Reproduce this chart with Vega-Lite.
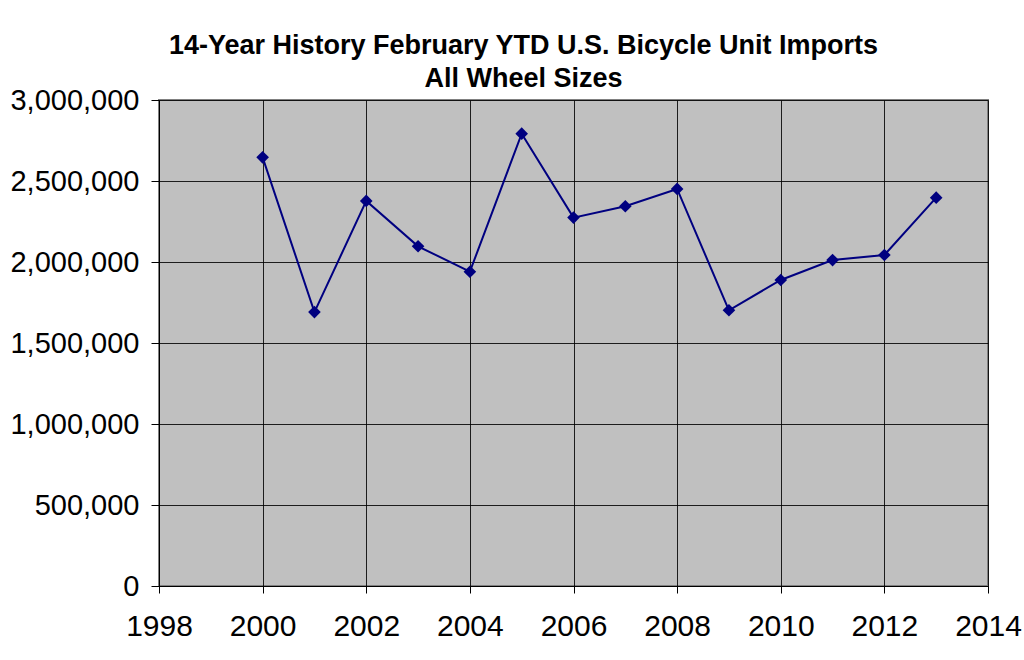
{
  "$schema": "https://vega.github.io/schema/vega-lite/v6.json",
  "width": 829,
  "height": 486,
  "autosize": {"type": "none"},
  "padding": {"left": 159, "top": 100, "right": 36, "bottom": 74},
  "background": "white",
  "title": {
    "text": ["14-Year History February YTD U.S. Bicycle Unit Imports", "All Wheel Sizes"],
    "font": "Liberation Sans",
    "fontSize": 27,
    "fontWeight": "bold",
    "color": "black",
    "anchor": "middle",
    "dx": -50,
    "lineHeight": 33,
    "offset": -7
  },
  "data": {
    "values": [
      {"year": 2000, "imports": 2646000},
      {"year": 2001, "imports": 1691000},
      {"year": 2002, "imports": 2377000},
      {"year": 2003, "imports": 2097000},
      {"year": 2004, "imports": 1940000},
      {"year": 2005, "imports": 2792000},
      {"year": 2006, "imports": 2274000},
      {"year": 2007, "imports": 2344000},
      {"year": 2008, "imports": 2451000},
      {"year": 2009, "imports": 1702000},
      {"year": 2010, "imports": 1889000},
      {"year": 2011, "imports": 2012000},
      {"year": 2012, "imports": 2043000},
      {"year": 2013, "imports": 2397000}
    ]
  },
  "encoding": {
    "x": {
      "field": "year",
      "type": "quantitative",
      "scale": {"domain": [1998, 2014], "nice": false, "zero": false},
      "axis": {
        "title": null,
        "values": [1998, 2000, 2002, 2004, 2006, 2008, 2010, 2012, 2014],
        "format": "d",
        "labelFont": "Liberation Sans",
        "labelFontSize": 30,
        "labelColor": "black",
        "labelPadding": 18,
        "tickSize": 7,
        "tickColor": "black",
        "domainColor": "black",
        "grid": true,
        "gridColor": "black",
        "gridOpacity": 0.85,
        "labelFlush": false,
        "labelOverlap": false
      }
    },
    "y": {
      "field": "imports",
      "type": "quantitative",
      "scale": {"domain": [0, 3000000], "nice": false},
      "axis": {
        "title": null,
        "values": [0, 500000, 1000000, 1500000, 2000000, 2500000, 3000000],
        "format": ",.0f",
        "labelFont": "Liberation Sans",
        "labelFontSize": 29,
        "labelColor": "black",
        "labelPadding": 12,
        "tickSize": 8,
        "tickColor": "black",
        "domainColor": "black",
        "grid": true,
        "gridColor": "black",
        "gridOpacity": 0.85,
        "labelFlush": false,
        "labelOverlap": false
      }
    }
  },
  "layer": [
    {"mark": {"type": "line", "color": "#000080", "strokeWidth": 2}},
    {"mark": {"type": "point", "shape": "diamond", "filled": true, "color": "#000080", "opacity": 1, "size": 160}}
  ],
  "config": {
    "view": {"fill": "#C0C0C0", "stroke": "#808080", "strokeWidth": 2}
  }
}
